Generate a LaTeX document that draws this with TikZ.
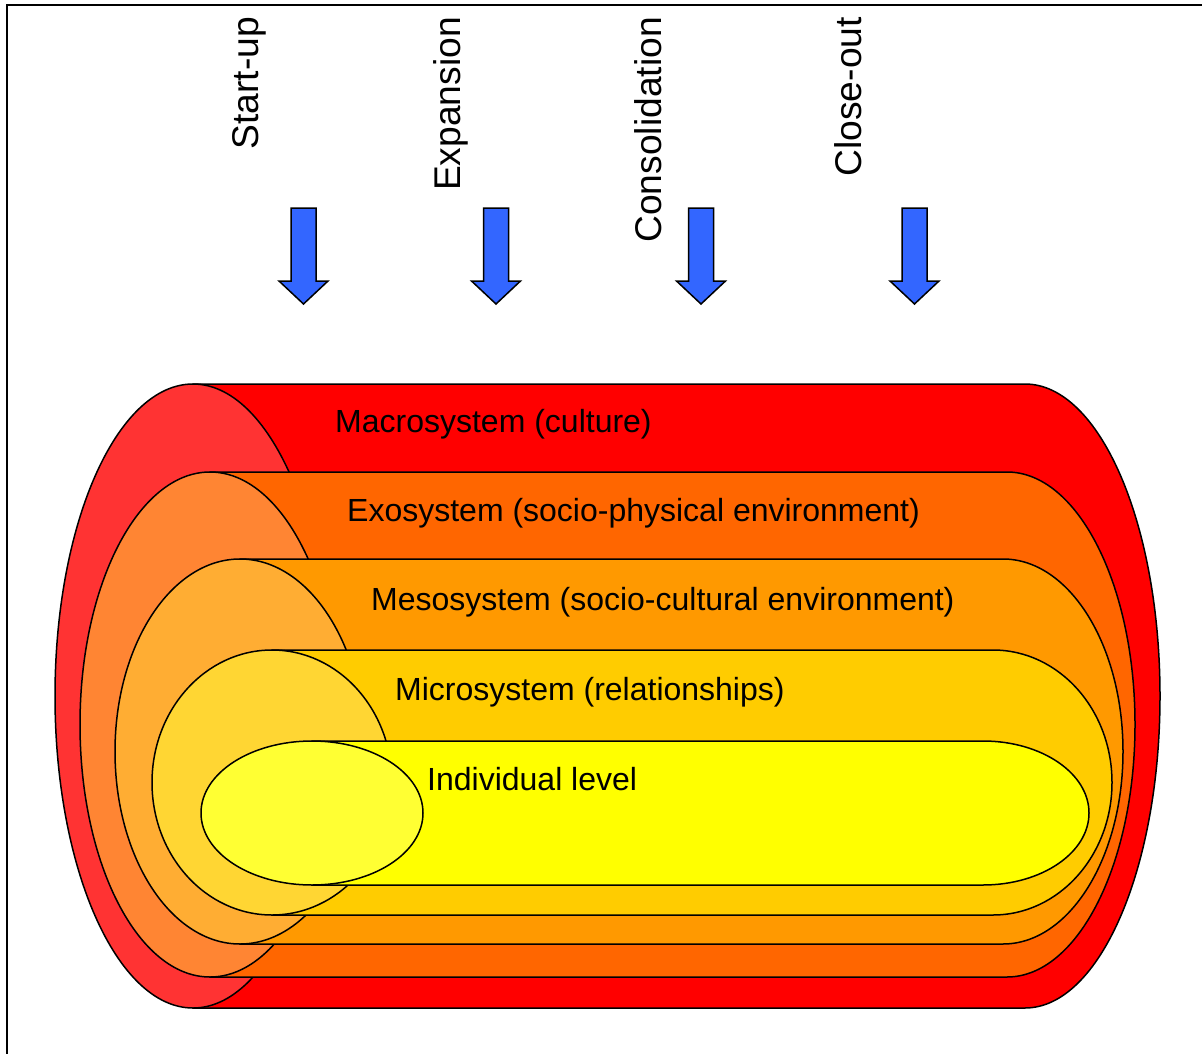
\documentclass[tikz,border=0pt]{standalone}
\usepackage{fontspec}
\setmainfont{Liberation Sans}

\definecolor{macrocol}{HTML}{FF0000}
\definecolor{exocol}{HTML}{FF6600}
\definecolor{mesocol}{HTML}{FF9900}
\definecolor{microcol}{HTML}{FFCC00}
\definecolor{indivcol}{HTML}{FFFF00}
\definecolor{arrowblue}{HTML}{3366FF}

% one level: centre x, centre y, half height, cap x radius, start of right end, right x radius, colour
\newcommand{\cylinder}[7]{
    \filldraw[layer, fill=#7] ({#1},{#2-#3}) -- ({#5},{#2-#3})
        arc[start angle=90, end angle=-90, x radius=#6pt, y radius=#3pt]
        -- ({#1},{#2+#3}) -- cycle;
    \filldraw[layer, fill=#7!80!white] (#1,#2) ellipse [x radius=#4pt, y radius=#3pt];
}

\begin{document}
\begin{tikzpicture}[x=1pt,y=-1pt]
    \useasboundingbox (0,0) rectangle (1202,1054);

    \tikzstyle{layer}=[draw=black, line width=1.5pt]
    \tikzstyle{level}=[anchor=base west, inner sep=0pt, font=\fontsize{32}{36}\selectfont]
    \tikzstyle{phase}=[rotate=90, anchor=base east, inner sep=0pt, font=\fontsize{37.2}{40}\selectfont]
    \tikzstyle{blockarrow}=[fill=arrowblue, draw=black, line width=1.5pt, line join=miter]

    % frame
    \draw[line width=2pt] (7,1070) -- (7,5) -- (1220,5);

    % phases
    \node[phase]  (startup) at (258,17) {Start-up};
    \node[phase]  (expansion) at (460,17) {Expansion};
    \node[phase]  (consolidation) at (661,17) {Consolidation};
    \node[phase]  (closeout) at (861,17) {Close-out};

    \foreach \ax in {303.5,496,701,914.5}
        \draw[blockarrow] (\ax-12.5,208) -- (\ax+12.5,208) -- (\ax+12.5,281) -- (\ax+24.5,281)
            -- (\ax,304) -- (\ax-24.5,281) -- (\ax-12.5,281) -- cycle;

    % levels, outside in
    \cylinder{193}{696}{312}{138}{1025}{135}{macrocol}
    \cylinder{210}{724.5}{252.5}{130}{1007}{128}{exocol}
    \cylinder{240}{751.5}{192.5}{125}{1003}{120}{mesocol}
    \cylinder{272}{782.5}{132.5}{120}{993}{119}{microcol}
    \cylinder{312}{813}{72}{111}{983}{106}{indivcol}

    \node[level]  (macro) at (335,432) {Macrosystem (culture)};
    \node[level]  (exo) at (347,521) {Exosystem (socio-physical environment)};
    \node[level]  (meso) at (371,610) {Mesosystem (socio-cultural environment)};
    \node[level]  (micro) at (395,700) {Microsystem (relationships)};
    \node[level]  (indiv) at (427,790) {Individual level};
\end{tikzpicture}
\end{document}
